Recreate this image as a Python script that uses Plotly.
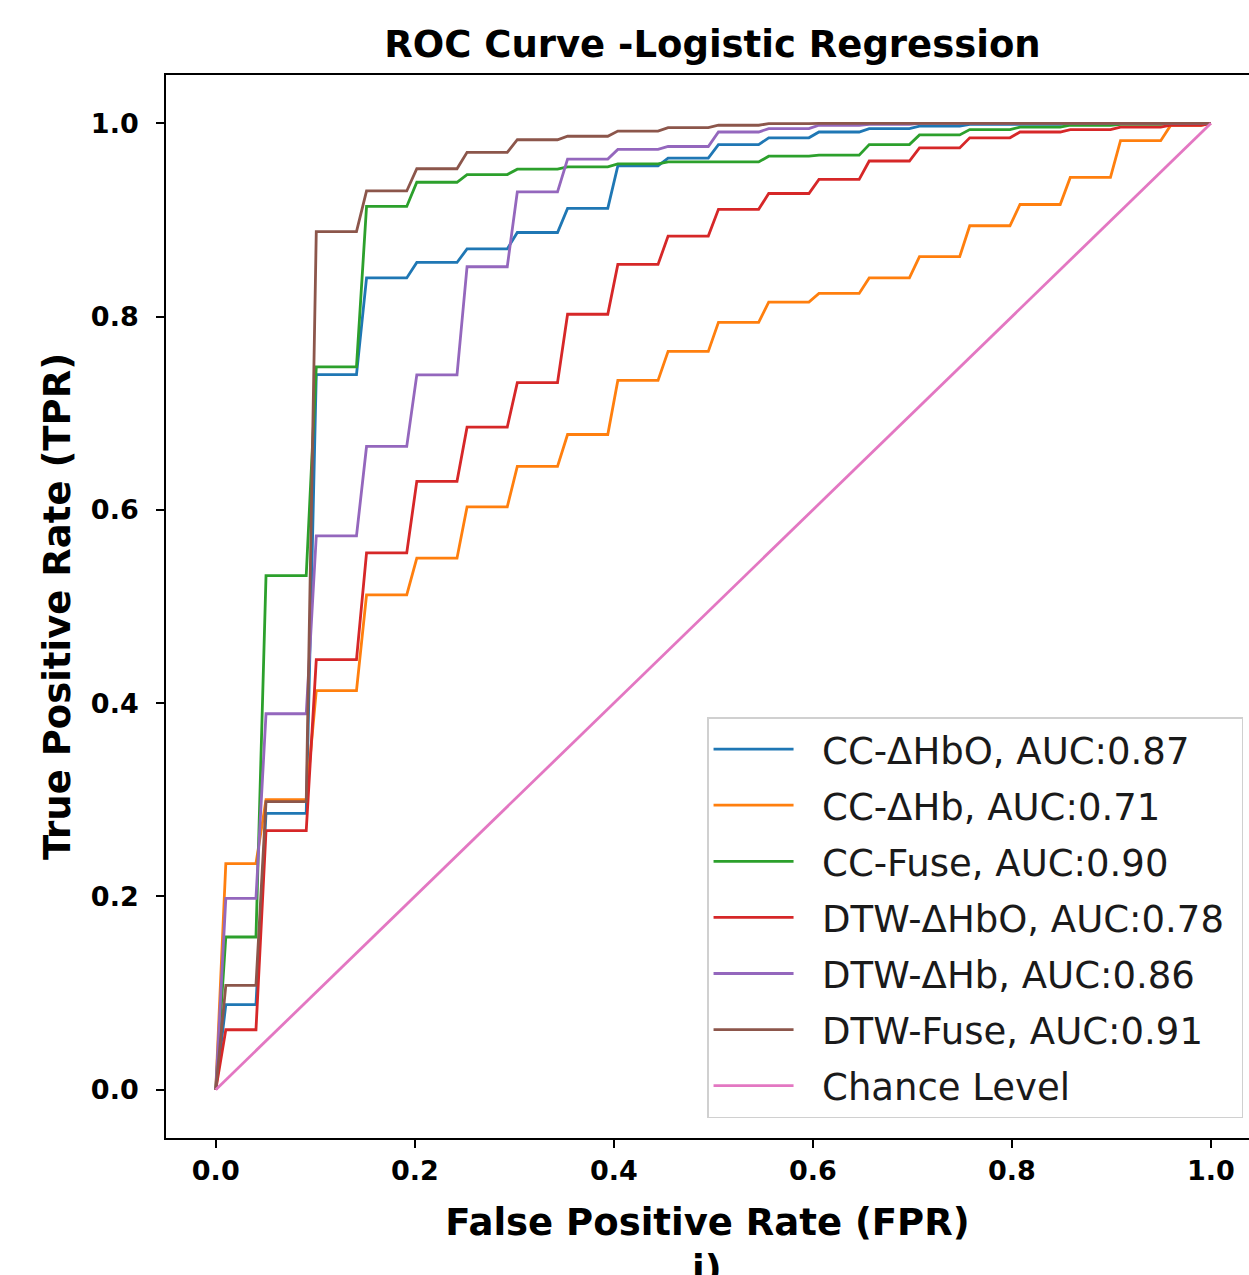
import plotly.graph_objects as go

# Averaged ROC curves (mean over CV folds) sampled on a 100-point FPR grid.
# Each curve is a staircase: one TPR level per plateau.
PLATEAU_START = [0.0101, 0.0505, 0.1010, 0.1515, 0.2020, 0.2525, 0.3030, 0.3535,
                 0.4040, 0.4545, 0.5051, 0.5556, 0.6061, 0.6566, 0.7071, 0.7576,
                 0.8081, 0.8586, 0.9091, 0.9596]
PLATEAU_END = [0.0404, 0.0909, 0.1414, 0.1919, 0.2424, 0.2929, 0.3434, 0.3939,
               0.4444, 0.4949, 0.5455, 0.5960, 0.6465, 0.6970, 0.7475, 0.7980,
               0.8485, 0.8990, 0.9495, 0.9899]

series_names = ["CC-ΔHbO", "CC-ΔHb", "CC-Fuse", "DTW-ΔHbO", "DTW-ΔHb", "DTW-Fuse"]
auc_values = [0.87, 0.71, 0.90, 0.78, 0.86, 0.91]

tpr_cc_hbo = [0.088, 0.286, 0.740, 0.840, 0.856, 0.870, 0.887, 0.912, 0.956, 0.964,
              0.978, 0.985, 0.991, 0.9945, 0.997, 0.999, 0.999, 1.0, 1.0, 1.0]
tpr_cc_hb = [0.234, 0.300, 0.413, 0.512, 0.550, 0.603, 0.645, 0.678, 0.734, 0.764,
             0.794, 0.815, 0.824, 0.840, 0.862, 0.894, 0.916, 0.944, 0.982, 0.998]
tpr_cc_fuse = [0.158, 0.532, 0.748, 0.914, 0.939, 0.947, 0.9525, 0.955, 0.958, 0.960,
               0.960, 0.966, 0.967, 0.978, 0.988, 0.9935, 0.996, 0.998, 0.999, 1.0]
tpr_dtw_hbo = [0.062, 0.268, 0.445, 0.5555, 0.6295, 0.6856, 0.7317, 0.8024, 0.854, 0.8833,
               0.911, 0.9274, 0.942, 0.961, 0.9745, 0.985, 0.991, 0.9935, 0.996, 0.998]
tpr_dtw_hb = [0.198, 0.389, 0.573, 0.6656, 0.7397, 0.8516, 0.929, 0.963, 0.973, 0.976,
              0.991, 0.9945, 0.998, 0.999, 1.0, 1.0, 1.0, 1.0, 1.0, 1.0]
tpr_dtw_fuse = [0.108, 0.298, 0.888, 0.930, 0.953, 0.970, 0.983, 0.9866, 0.992, 0.9955,
                0.998, 0.9996, 1.0, 1.0, 1.0, 1.0, 1.0, 1.0, 1.0, 1.0]

tpr_levels = [tpr_cc_hbo, tpr_cc_hb, tpr_cc_fuse, tpr_dtw_hbo, tpr_dtw_hb, tpr_dtw_fuse]
colors = ["#1f77b4", "#ff7f0e", "#2ca02c", "#d62728", "#9467bd", "#8c564b"]
chance_fpr = [0.0, 1.0]
chance_tpr = [0.0, 1.0]

FONT = "DejaVu Sans"
NB = "\u00a0"  # non-breaking space, pads legend text away from the line sample


def staircase(levels):
    xs, ys = [0.0], [0.0]
    for x0, x1, lv in zip(PLATEAU_START, PLATEAU_END, levels):
        xs += [x0, x1]
        ys += [lv, lv]
    xs.append(1.0)
    ys.append(1.0)
    return xs, ys


def legend_label(text):
    return NB * 2 + text + NB


fig = go.Figure()
for i, (name, auc, lv, col) in enumerate(zip(series_names, auc_values, tpr_levels, colors)):
    xs, ys = staircase(lv)
    fig.add_trace(go.Scatter(
        x=xs, y=ys, mode="lines", name=legend_label(f"{name}, AUC:{auc:.2f}"),
        line=dict(color=col, width=2.8), legendgroup=f"g{i}",
    ))
fig.add_trace(go.Scatter(
    x=chance_fpr, y=chance_tpr, mode="lines", name=legend_label("Chance Level"),
    line=dict(color="#e377c2", width=2.8), legendgroup="g6",
))

fig.update_layout(
    width=1249, height=1275,
    margin=dict(l=166, r=0, t=75, b=137),
    paper_bgcolor="white", plot_bgcolor="white",
    font=dict(family=FONT, color="black"),
    title=dict(
        text="ROC Curve -Logistic Regression",
        font=dict(family=FONT, size=37, weight="bold", color="black"),
        xref="paper", x=0.5046, xanchor="center",
        yref="container", y=1 - 44 / 1275, yanchor="middle",
    ),
    showlegend=True,
    legend=dict(
        x=0.9945, xanchor="right", y=0.396, yanchor="top",
        bgcolor="rgba(255,255,255,0.8)", bordercolor="#d0d0d0", borderwidth=1.5,
        font=dict(family=FONT, size=37, color="#1a1a1a"),
        traceorder="grouped", tracegroupgap=5, itemwidth=80,
    ),
)

fig.update_xaxes(
    range=[-0.05, 1.0382], showgrid=False, zeroline=False,
    showline=True, linecolor="black", linewidth=1.8, mirror=True,
    ticks="outside", ticklen=8, tickwidth=1.8, tickcolor="black",
    tickvals=[0.0, 0.2, 0.4, 0.6, 0.8, 1.0],
    ticktext=["0.0", "0.2", "0.4", "0.6", "0.8", "1.0"],
    tickfont=dict(family=FONT, size=27, weight="bold", color="black"),
    title=dict(text="False Positive Rate (FPR)", standoff=24,
               font=dict(family=FONT, size=37, weight="bold", color="black")),
)
fig.update_yaxes(
    range=[-0.05, 1.05], showgrid=False, zeroline=False,
    showline=True, linecolor="black", linewidth=1.8, mirror=False,
    ticks="outside", ticklen=8, tickwidth=1.8, tickcolor="black",
    tickvals=[0.0, 0.2, 0.4, 0.6, 0.8, 1.0],
    ticktext=["0.0", "0.2", "0.4", "0.6", "0.8", "1.0"],
    tickfont=dict(family=FONT, size=27, weight="bold", color="black"),
    ticklabelstandoff=12,
    title=dict(text="True Positive Rate (TPR)", standoff=9,
               font=dict(family=FONT, size=37, weight="bold", color="black")),
)

# Panel label below the x-axis title
fig.add_annotation(
    text="i)", xref="paper", yref="paper", x=0.4998, y=-0.102,
    xanchor="center", yanchor="top", showarrow=False,
    font=dict(family=FONT, size=37, weight="bold", color="black"),
)

fig.write_html("out.html")
